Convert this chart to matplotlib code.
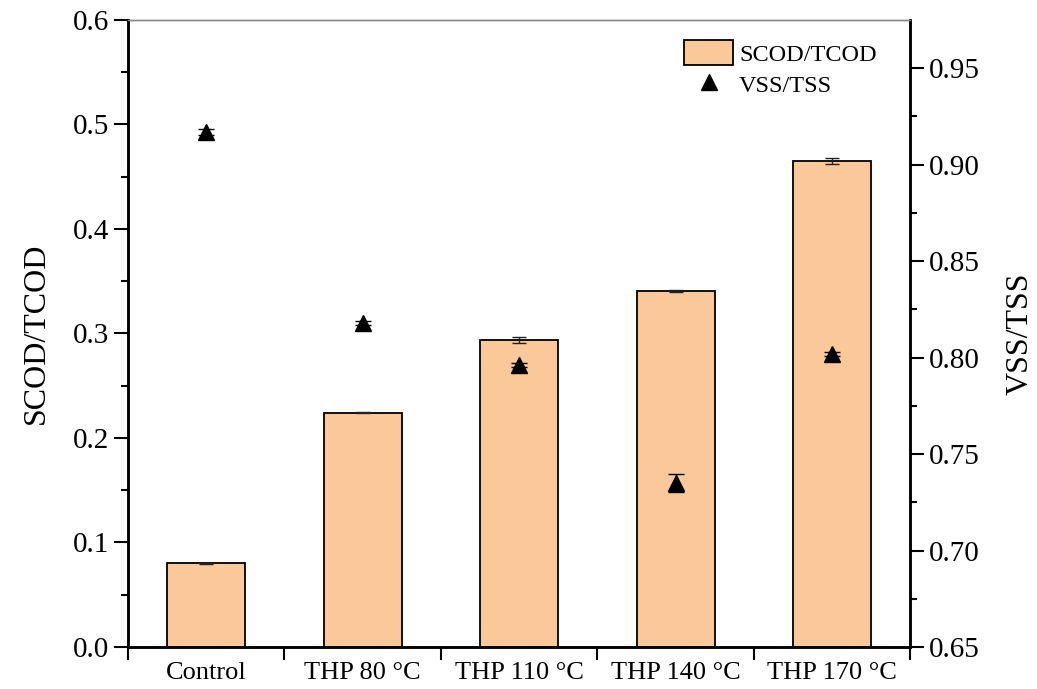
import numpy as np
import matplotlib.pyplot as plt
from matplotlib.lines import Line2D

plt.rcParams['font.family'] = ['Liberation Serif', 'DejaVu Serif']

categories = ["Control", "THP 80 °C", "THP 110 °C", "THP 140 °C", "THP 170 °C"]
scod_tcod = [0.080, 0.224, 0.294, 0.341, 0.465]
scod_err = [0.0005, 0.0005, 0.003, 0.001, 0.003]
vss_tss = [0.917, 0.818, 0.796, 0.735, 0.802]
vss_err = [0.0015, 0.001, 0.001, 0.0047, 0.001]

x = np.arange(len(categories))

fig = plt.figure(figsize=(10.37, 6.89), dpi=100)
ax = fig.add_axes([0.1234, 0.061, 0.7545, 0.910])

bars = ax.bar(x, scod_tcod, width=0.5, color='#FBC899', edgecolor='black',
              linewidth=1.3, label='SCOD/TCOD', zorder=2)
ax.errorbar(x, scod_tcod, yerr=scod_err, fmt='none', ecolor='#222222',
            elinewidth=1.0, capsize=5, capthick=1.0, zorder=3)

ax.set_xlim(-0.5, 4.5)
ax.set_ylim(0, 0.6)
ax.set_yticks(np.arange(0, 0.61, 0.1))
ax.set_yticks(np.arange(0.05, 0.6, 0.1), minor=True)
ax.set_yticklabels([f"{v:.1f}" for v in np.arange(0, 0.61, 0.1)])
ax.set_xticks(np.arange(-0.5, 4.6, 1.0))
ax.set_xticklabels([])
ax.set_xticks(x, minor=True)
ax.set_xticklabels(categories, minor=True)
ax.tick_params(axis='x', which='minor', length=0, labelsize=19, pad=11)
ax.tick_params(axis='x', which='major', length=9, width=1.5, direction='out')
ax.tick_params(axis='y', which='major', length=10, width=1.5, direction='out', labelsize=21)
ax.tick_params(axis='y', which='minor', length=5, width=1.5, direction='out')
ax.set_ylabel("SCOD/TCOD", fontsize=23, labelpad=16)

ax2 = ax.twinx()
ax2.errorbar(x, vss_tss, yerr=vss_err, fmt='^', color='black', markersize=11,
             ecolor='black', elinewidth=1.0, capsize=6, capthick=1.0, zorder=4)
ax2.set_ylim(0.65, 0.975)
ax2.set_yticks(np.arange(0.65, 0.951, 0.05))
ax2.set_yticks(np.arange(0.675, 0.975, 0.05), minor=True)
ax2.set_yticklabels([f"{v:.2f}" for v in np.arange(0.65, 0.951, 0.05)])
ax2.tick_params(axis='y', which='major', length=10, width=1.5, direction='out', labelsize=21)
ax2.tick_params(axis='y', which='minor', length=5, width=1.5, direction='out')
ax2.set_ylabel("VSS/TSS", fontsize=23, labelpad=18)

for a in (ax, ax2):
    for side in ('left', 'right', 'bottom'):
        a.spines[side].set_linewidth(1.8)
    a.spines['top'].set_linewidth(1.0)
    a.spines['top'].set_color('#888888')

tri = Line2D([], [], marker='^', linestyle='none', color='black', markersize=11)
ax2.legend([bars, tri], ['SCOD/TCOD', 'VSS/TSS'], loc='upper right',
           bbox_to_anchor=(0.985, 1.003), frameon=False, fontsize=17.5,
           handlelength=2.0, handleheight=1.2, handletextpad=0.25, labelspacing=0.25)

fig.savefig("out.png", dpi=100)
